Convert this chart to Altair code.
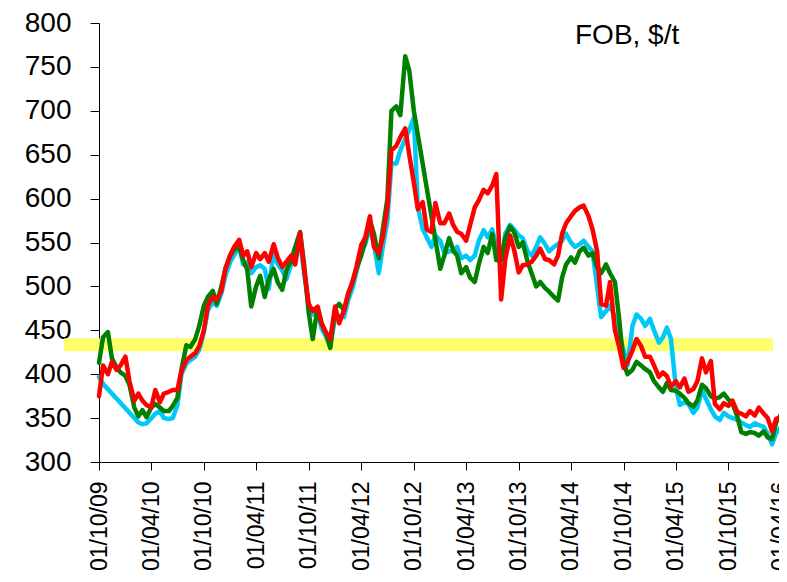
import altair as alt
import pandas as pd

# semi-monthly sampling dates (1st and 15th), Oct 2009 .. May 2016
dates = pd.date_range("2009-10-01", periods=159, freq="SMS")

red = [375, 410, 400, 414, 405, 410, 420, 392, 370, 378, 370, 365, 362, 382, 368, 378, 380, 382, 382, 404,
       416, 420, 424, 432, 450, 478, 488, 485, 495, 520, 536, 545, 553, 535, 540, 522, 538, 531, 538, 528,
       548, 533, 522, 528, 535, 525, 561, 520, 480, 472, 477, 458, 447, 440, 477, 458, 473, 492, 505, 522,
       547, 556, 580, 545, 538, 556, 590, 655, 660, 670, 680, 650, 618, 588, 596, 565, 562, 595, 572, 572,
       583, 570, 562, 560, 552, 570, 590, 598, 610, 606, 615, 628, 485, 530, 558, 542, 516, 524, 525, 528,
       535, 543, 531, 530, 525, 535, 560, 572, 580, 586, 590, 592, 580, 565, 540, 480, 478, 505, 450, 432,
       407, 414, 427, 440, 432, 420, 420, 410, 397, 402, 398, 386, 392, 385, 395, 380, 383, 392, 418, 402,
       415, 366, 360, 367, 364, 370, 357, 355, 352, 358, 353, 362, 355, 350, 335, 349, 351, 367, 395]

green = [413, 442, 448, 418, 408, 402, 398, 388, 362, 352, 359, 351, 362, 366, 362, 358, 358, 364, 373, 405,
         433, 431, 440, 455, 478, 488, 495, 480, 500, 520, 535, 542, 545, 530, 519, 477, 500, 512, 488, 508,
         520, 505, 496, 518, 530, 545, 562, 525, 470, 440, 476, 457, 446, 430, 475, 480, 473, 490, 504, 520,
         535, 552, 575, 560, 532, 565, 600, 700, 705, 695, 762, 746, 700, None, None, None, None, None, 520, 535,
         555, 541, 535, 515, 522, 510, 505, 525, 545, 538, 560, 530, 530, 555, 568, 562, 545, 550, 528, 515,
         500, 505, 498, 494, 488, 484, 510, 525, 533, 527, 540, 544, 535, 538, 522, 515, 525, 515, 505, 465,
         413, 400, 405, 414, 410, 406, 402, 392, 385, 380, 390, 382, 381, 378, 373, 367, 363, 370, 388, 384,
         375, 372, 374, 378, 371, 367, 352, 334, 332, 334, 333, 330, 335, 328, 326, 345, 354, 385, 398]

cyan = [397, 389, None, None, None, None, None, None, 350, 345, 343, 344, 350, 355, 358, 350, 349, 350, 365, 400,
        412, 416, 420, 428, 448, 473, 482, 478, 492, 512, 528, 536, 545, 525, 528, 515, 522, 524, 520, 497,
        540, 525, 518, 508, 525, 530, 552, 515, 478, 468, 470, 452, 442, 432, 465, 466, 465, 484, 498, 516,
        540, 548, 568, 548, 515, 545, 575, 640, 640, 655, 668, 678, 692, 590, 565, 556, 545, 558, 552, 538,
        540, 540, 545, 532, 535, 530, 535, 552, 564, 556, 565, 545, 520, 560, 570, 565, 558, 555, 540, 535,
        545, 556, 548, 540, 545, 548, 552, 560, 550, 545, 548, 552, 545, 540, 500, 465, 472, 478, 465, 445,
        427, 410, 455, 468, 463, 455, 463, 450, 436, 442, 453, 440, 385, 365, 368, 366, 356, 362, 382, 372,
        360, 352, 348, 356, 352, 350, 348, 345, 342, 340, 344, 342, 340, 332, 320, 333, 340, 350, 356]

series_names = ["cyan", "green", "red"]
series_values = [cyan, green, red]
series_colors = ["#00c8f8", "#008000", "#ff0000"]

band_start = "2009-06-01"
band_end = "2016-03-04"
band_low = 426
band_high = 441

y_ticks = list(range(300, 801, 50))
x_tick_dates = [(y, m) for y in range(2009, 2017) for m in (4, 10)
                if (2009, 10) <= (y, m) <= (2016, 4)]
unit_label = "FOB, $/t"

x_scale = alt.Scale(domain=[alt.DateTime(year=2009, month=10, date=1),
                            alt.DateTime(year=2016, month=4, date=22)],
                    range=[0, 688])
y_scale = alt.Scale(domain=[300, 800])

x_axis = alt.Axis(
    values=[alt.DateTime(year=y, month=m, date=1) for y, m in x_tick_dates],
    format="%d/%m/%y", labelAngle=270, labelFontSize=23, labelFont="Liberation Sans",
    labelColor="black", tickSize=8, tickColor="black", domainColor="black",
    labelPadding=11, grid=False, title=None, labelOverlap=False, labelBound=False, labelFlush=False)
y_axis = alt.Axis(
    values=y_ticks, labelFontSize=28, labelFont="Liberation Sans", labelColor="black",
    tickSize=9, tickColor="black", domainColor="black", labelPadding=19, grid=False,
    title=None, labelOverlap=False)

band_df = pd.DataFrame({"start": [band_start], "end": [band_end],
                        "low": [band_low], "high": [band_high]})
band = alt.Chart(band_df).mark_rect(color="#ffff5c", opacity=0.9).encode(
    x=alt.X("start:T", scale=x_scale, axis=x_axis),
    x2="end:T",
    y=alt.Y("low:Q", scale=y_scale, axis=y_axis),
    y2="high:Q",
)

layers = [band]
for name, vals, col in zip(series_names, series_values, series_colors):
    df = pd.DataFrame({"date": dates, "value": vals})
    df = df.dropna()
    layers.append(
        alt.Chart(df).mark_line(color=col, strokeWidth=4.5, strokeJoin="round",
                                strokeCap="round").encode(
            x=alt.X("date:T", scale=x_scale, axis=x_axis),
            y=alt.Y("value:Q", scale=y_scale, axis=y_axis),
        )
    )

label = alt.Chart(pd.DataFrame({"t": [unit_label]})).mark_text(
    align="left", baseline="middle", fontSize=28, font="Liberation Sans", color="black"
).encode(x=alt.value(476), y=alt.value(13), text="t:N")
layers.append(label)

chart = alt.layer(*layers).properties(
    width=680, height=439,
    autosize=alt.AutoSizeParams(type="none"),
    padding={"left": 91, "top": 15, "right": 0, "bottom": 108},
).configure_view(stroke="transparent")

chart.save("out.html", embed_options={"renderer": "svg", "actions": False})
